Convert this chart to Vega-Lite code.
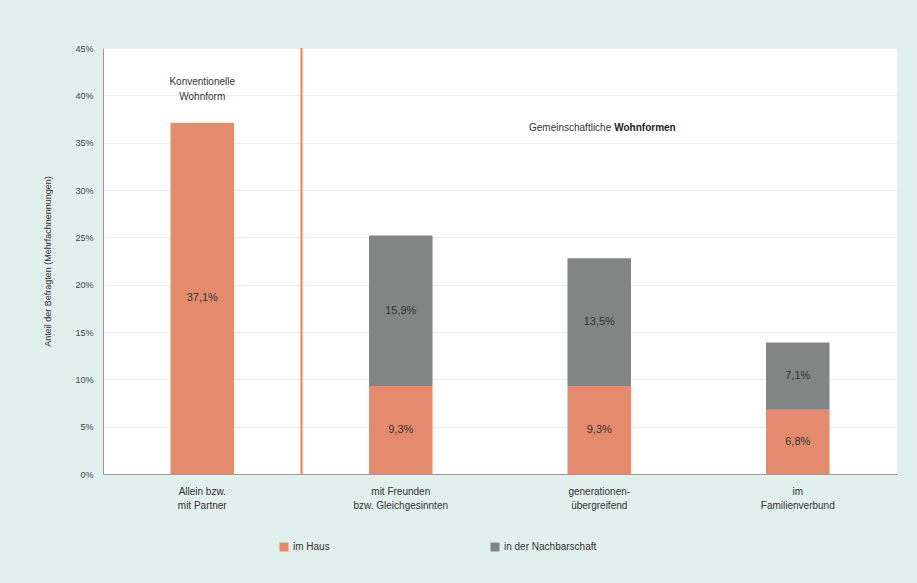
{
  "$schema": "https://vega.github.io/schema/vega-lite/v6.json",
  "width": 794,
  "height": 426,
  "autosize": {"type": "none"},
  "padding": {"left": 103, "top": 48, "right": 20, "bottom": 109},
  "background": "#e1f0ec",
  "config": {
    "font": "Liberation Sans",
    "view": {"fill": "white", "stroke": null}
  },
  "datasets": {
    "bars": [
      {"cat": "Allein bzw.|mit Partner", "seg": "im Haus", "value": 37.1, "label": "37,1%"},
      {"cat": "mit Freunden|bzw. Gleichgesinnten", "seg": "im Haus", "value": 9.3, "label": "9,3%"},
      {"cat": "mit Freunden|bzw. Gleichgesinnten", "seg": "in der Nachbarschaft", "value": 15.9, "label": "15,9%"},
      {"cat": "generationen-|übergreifend", "seg": "im Haus", "value": 9.3, "label": "9,3%"},
      {"cat": "generationen-|übergreifend", "seg": "in der Nachbarschaft", "value": 13.5, "label": "13,5%"},
      {"cat": "im|Familienverbund", "seg": "im Haus", "value": 6.8, "label": "6,8%"},
      {"cat": "im|Familienverbund", "seg": "in der Nachbarschaft", "value": 7.1, "label": "7,1%"}
    ],
    "sep": [{"cat": "Allein bzw.|mit Partner"}],
    "notes": [
      {"cat": "Allein bzw.|mit Partner", "y": 41.4, "text": ["Konventionelle", "Wohnform"]}
    ],
    "notes2": [
      {"cat": "generationen-|übergreifend", "y": 36.6, "a": "Gemeinschaftliche", "b": "Wohnformen"}
    ]
  },
  "encoding": {
    "x": {
      "field": "cat",
      "type": "nominal",
      "sort": ["Allein bzw.|mit Partner", "mit Freunden|bzw. Gleichgesinnten", "generationen-|übergreifend", "im|Familienverbund"],
      "scale": {"paddingInner": 0, "paddingOuter": 0},
      "axis": {
        "title": null,
        "labelAngle": 0,
        "labelExpr": "split(datum.label, '|')",
        "ticks": false,
        "domainColor": "#9a9a9a",
        "labelPadding": 12,
        "labelFontSize": 10,
        "labelColor": "#333333",
        "labelLineHeight": 14
      }
    }
  },
  "layer": [
    {
      "data": {"name": "bars"},
      "mark": {"type": "bar", "width": {"band": 0.32}},
      "encoding": {
        "y": {
          "field": "value",
          "type": "quantitative",
          "aggregate": "sum",
          "stack": "zero",
          "scale": {"domain": [0, 45], "nice": false},
          "axis": {
            "values": [0, 5, 10, 15, 20, 25, 30, 35, 40, 45],
            "labelExpr": "datum.value + '%'",
            "title": "Anteil der Befragten (Mehrfachnennungen)",
            "titleFontSize": 9,
            "titleFontWeight": "normal",
            "titleColor": "#333333",
            "titlePadding": 22,
            "labelFontSize": 9,
            "labelColor": "#444444",
            "labelPadding": 10,
            "ticks": false,
            "domainColor": "#9a9a9a",
            "gridColor": "#ececec"
          }
        },
        "order": {"field": "seg", "sort": "ascending"},
        "color": {
          "field": "seg",
          "type": "nominal",
          "scale": {"domain": ["im Haus", "in der Nachbarschaft"], "range": ["#e48b6e", "#838585"]},
          "legend": {
            "orient": "none",
            "legendX": 176,
            "legendY": 494,
            "direction": "horizontal",
            "title": null,
            "symbolType": "square",
            "symbolSize": 80,
            "symbolStrokeWidth": 0,
            "labelFontSize": 10,
            "labelColor": "#333333",
            "columnPadding": 160
          }
        }
      }
    },
    {
      "data": {"name": "bars"},
      "transform": [
        {"stack": "value", "groupby": ["cat"], "sort": [{"field": "seg"}], "as": ["v0", "v1"]},
        {"calculate": "(datum.v0 + datum.v1) / 2", "as": "mid"}
      ],
      "mark": {"type": "text", "fontSize": 11, "color": "#333333"},
      "encoding": {
        "y": {"field": "mid", "type": "quantitative"},
        "text": {"field": "label"}
      }
    },
    {
      "data": {"name": "sep"},
      "mark": {"type": "rule", "color": "#e8824f", "strokeWidth": 2},
      "encoding": {
        "x": {"field": "cat", "type": "nominal", "bandPosition": 1}
      }
    },
    {
      "data": {"name": "notes"},
      "mark": {"type": "text", "fontSize": 10, "color": "#333333", "lineHeight": 15},
      "encoding": {
        "y": {"field": "y", "type": "quantitative"},
        "text": {"field": "text"}
      }
    },
    {
      "data": {"name": "notes2"},
      "mark": {"type": "text", "fontSize": 10, "color": "#333333", "align": "right", "dx": 12},
      "encoding": {
        "y": {"field": "y", "type": "quantitative"},
        "text": {"field": "a"}
      }
    },
    {
      "data": {"name": "notes2"},
      "mark": {"type": "text", "fontSize": 10, "color": "#222222", "fontWeight": "bold", "align": "left", "dx": 15},
      "encoding": {
        "y": {"field": "y", "type": "quantitative"},
        "text": {"field": "b"}
      }
    }
  ]
}
